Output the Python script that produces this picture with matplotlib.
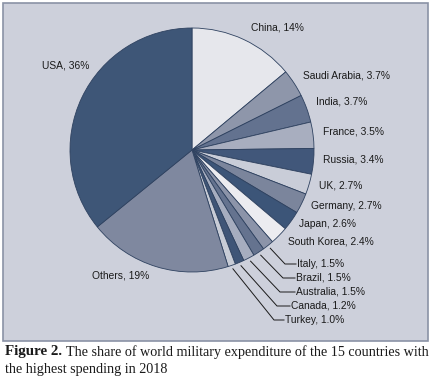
import numpy as np
import matplotlib
matplotlib.use("Agg")
import matplotlib.pyplot as plt
from matplotlib.patches import Rectangle

countries = ["China", "Saudi Arabia", "India", "France", "Russia", "UK", "Germany",
             "Japan", "South Korea", "Italy", "Brazil", "Australia", "Canada",
             "Turkey", "Others", "USA"]
shares = [14, 3.7, 3.7, 3.5, 3.4, 2.7, 2.7, 2.6, 2.4, 1.5, 1.5, 1.5, 1.2, 1.0, 19, 36]
share_labels = ["14%", "3.7%", "3.7%", "3.5%", "3.4%", "2.7%", "2.7%", "2.6%", "2.4%",
                "1.5%", "1.5%", "1.5%", "1.2%", "1.0%", "19%", "36%"]

colors = ["#e6e7ec", "#8e96aa", "#63728f", "#a8aebf", "#41577a", "#c9cdd8", "#7b859c",
          "#3c5578", "#ececf0", "#8c94a9", "#65738f", "#a6adbf", "#3f5577", "#c8ccd6",
          "#7f889f", "#3e5677"]

W, H = 432, 379
CX, CY, R = 192, 150, 122

label_pos = {
    "China": (251, 28), "Saudi Arabia": (303, 75), "India": (316, 102),
    "France": (323, 131), "Russia": (323, 159), "UK": (319, 186),
    "Germany": (311, 206), "Japan": (299, 224), "South Korea": (288, 241),
    "Italy": (297, 264), "Brazil": (296, 278), "Australia": (296, 292),
    "Canada": (291, 306), "Turkey": (285, 320), "Others": (92, 275), "USA": (42, 66),
}
leader_elbow = {"Italy": 285, "Brazil": 283, "Australia": 280, "Canada": 277, "Turkey": 274}

fig = plt.figure(figsize=(W / 100, H / 100), dpi=100)
fig.patch.set_facecolor("white")

def fx(px):
    return px / W

def fy(py):
    return 1 - py / H

bg = Rectangle((fx(3), fy(341)), fx(425), 338 / H, transform=fig.transFigure,
               facecolor="#cdd0db", edgecolor="#8a92a5", linewidth=1.2, zorder=-5)
fig.patches.append(bg)

ax = fig.add_axes([fx(CX - R), fy(CY + R), 2 * R / W, 2 * R / H])
ax.set_zorder(1)
wedges, _ = ax.pie(shares, colors=colors, startangle=90, counterclock=False, radius=1,
                   wedgeprops=dict(edgecolor="#2f4260", linewidth=0.6))
ax.set_xlim(-1, 1)
ax.set_ylim(-1, 1)
ax.axis("off")

def to_data(px, py):
    return (px - CX) / R, (CY - py) / R

font = "Liberation Sans"
total = sum(shares)
cum = 0
for name, s, lab in zip(countries, shares, share_labels):
    mid = (cum + s / 2) / total * 2 * np.pi
    cum += s
    lx, ly = label_pos[name]
    ax.text(*to_data(lx, ly), f"{name}, {lab}", fontsize=7.35, family=font,
            ha="left", va="center", color="#1a1a1a", clip_on=False)
    if name in leader_elbow:
        sx, sy = 1.03 * np.sin(mid), 1.03 * np.cos(mid)
        ex = leader_elbow[name]
        x1, y1 = to_data(ex, ly)
        x2, y2 = to_data(lx - 1, ly)
        ax.plot([sx, x1, x2], [sy, y1, y2], color="#1a1a1a", linewidth=0.7,
                clip_on=False, solid_joinstyle="miter")

caption_font = "Liberation Serif"
cs = 10.2
t1 = fig.text(fx(5), fy(352), "Figure 2.", fontsize=cs + 0.6, family=caption_font,
              fontweight="bold", ha="left", va="center", color="#1a1a1a")
fig.canvas.draw()
bb = t1.get_window_extent()
fig.text(bb.x1 / W + 4 / W, fy(352), "The share of world military expenditure of the 15 countries with",
         fontsize=cs, family=caption_font, ha="left", va="center", color="#1a1a1a")
fig.text(fx(5), fy(370), "the highest spending in 2018", fontsize=cs, family=caption_font,
         ha="left", va="center", color="#1a1a1a")

fig.savefig("out.png", dpi=100)
